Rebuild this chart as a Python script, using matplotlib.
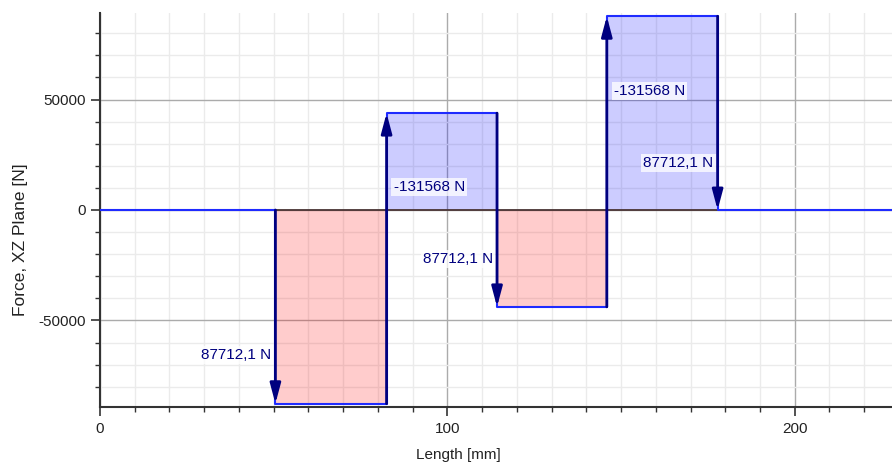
import matplotlib.pyplot as plt
from matplotlib.ticker import MultipleLocator

plt.rcParams["font.family"] = ["Liberation Sans", "DejaVu Sans"]
plt.rcParams["axes.unicode_minus"] = False

# point loads along the shaft (mm) and the shear level right after each one (N)
load_x = [50.5, 82.5, 114.3, 145.9, 177.8]
shear_after = [-87712.1, 43855.9, -43856.2, 87711.8, 0.0]
load_labels = ["87712,1 N", "-131568 N", "87712,1 N", "-131568 N", "87712,1 N"]
label_y = [-65600, 10400, -22200, 53800, 21300]

X_MIN, X_MAX = 0, 228
Y_MIN, Y_MAX = -89200, 89200

LINE = "#1f2bff"
ARROW = "#00007f"
FS = 11

fig = plt.figure(figsize=(8.92, 4.71), dpi=100)
ax = fig.add_axes([0.1121, 0.1359, 0.8879, 0.8365])

xs = [X_MIN] + load_x + [X_MAX]
ys = [0.0] + shear_after + [0.0]

# shaded areas, red below zero and blue above
for x0, x1, v in zip(load_x[:-1], load_x[1:], shear_after[:-1]):
    ax.fill_between([x0, x1], 0, v, color="red" if v < 0 else "blue",
                    alpha=0.2, linewidth=0, zorder=2)

ax.plot([load_x[0], load_x[-1]], [0, 0], color="#4a3434", lw=1.3, zorder=3)
ax.step(xs, ys, where="post", color=LINE, lw=1.5, zorder=4)

# jumps drawn as arrows
prev = 0.0
for x, v in zip(load_x, shear_after):
    ax.annotate("", xy=(x, v), xytext=(x, prev),
                arrowprops=dict(arrowstyle="-|>,head_length=0.6,head_width=0.16",
                                color=ARROW, lw=2, mutation_scale=20,
                                shrinkA=0, shrinkB=0), zorder=5)
    prev = v

prev = 0.0
for x, v, txt, ty in zip(load_x, shear_after, load_labels, label_y):
    if v > prev:
        ax.text(x + 2.0, ty, txt, ha="left", va="center", fontsize=FS,
                color=ARROW, zorder=6,
                bbox=dict(facecolor="white", alpha=0.75, edgecolor="none", pad=1.5))
    else:
        ax.text(x - 1.2, ty, txt, ha="right", va="center", fontsize=FS,
                color=ARROW, zorder=6,
                bbox=dict(facecolor="white", alpha=0.75, edgecolor="none", pad=1.5))
    prev = v

ax.set_xlim(X_MIN, X_MAX)
ax.set_ylim(Y_MIN, Y_MAX)
ax.xaxis.set_major_locator(MultipleLocator(100))
ax.xaxis.set_minor_locator(MultipleLocator(10))
ax.yaxis.set_major_locator(MultipleLocator(50000))
ax.yaxis.set_minor_locator(MultipleLocator(10000))

ax.grid(which="major", color="#ababab", lw=1.0, zorder=0)
ax.grid(which="minor", color="#ebebeb", lw=1.0, zorder=0)
ax.set_axisbelow(True)

for side in ("top", "right"):
    ax.spines[side].set_visible(False)
for side in ("left", "bottom"):
    ax.spines[side].set_color("#333333")
    ax.spines[side].set_linewidth(1.5)

ax.tick_params(which="major", length=6.5, width=1.2, color="#333333",
               labelsize=FS, labelcolor="#222222", pad=4)
ax.tick_params(which="minor", length=3.6, width=1.0, color="#333333")

ax.set_xlabel("Length [mm]", fontsize=FS, color="#222222")
ax.set_ylabel("Force, XZ Plane [N]", fontsize=12.5, color="#222222")
ax.xaxis.set_label_coords(0.453, -0.104)
ax.yaxis.set_label_coords(-0.091, 0.424)

fig.savefig("out.png", dpi=100)
